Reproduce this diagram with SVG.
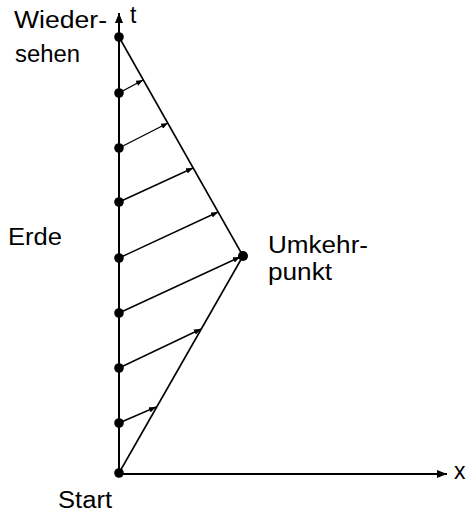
<svg xmlns="http://www.w3.org/2000/svg" width="467" height="512" viewBox="0 0 467 512">
<style>
.lbl{font-family:"Liberation Sans",Arial,sans-serif;font-size:23px;fill:#000}
.ax{stroke:#000;stroke-width:2;fill:none}
.wl{stroke:#000;stroke-width:1.6;fill:none}
.sig{stroke:#000;stroke-width:1.4;fill:none;marker-end:url(#sa)}
.ev{fill:#000}
</style>
<defs>
<marker id="sa" viewBox="0 0 10 8" refX="10" refY="4" markerWidth="7" markerHeight="5.6" markerUnits="userSpaceOnUse" orient="auto">
<path d="M0,0 L10,4 L0,8 z" fill="#000"/>
</marker>
<marker id="ba" viewBox="0 0 10 8" refX="10" refY="4" markerWidth="11" markerHeight="8" markerUnits="userSpaceOnUse" orient="auto">
<path d="M0,0 L10,4 L0,8 z" fill="#000"/>
</marker>
</defs>
<g id="connectors">
<line id="t-axis" class="ax" x1="119" y1="474" x2="119" y2="13" marker-end="url(#ba)"/>
<line id="x-axis" class="ax" x1="119" y1="474" x2="447" y2="474" marker-end="url(#ba)"/>
<line id="outbound" class="wl" x1="119" y1="473" x2="243" y2="256"/>
<line id="inbound" class="wl" x1="243" y1="256" x2="119" y2="37"/>
<line class="sig" x1="119" y1="423" x2="156" y2="407"/>
<line class="sig" x1="119" y1="368" x2="201" y2="329"/>
<line class="sig" x1="119" y1="313" x2="240" y2="257"/>
<line class="sig" x1="119" y1="258" x2="218" y2="212"/>
<line class="sig" x1="119" y1="202" x2="193" y2="168"/>
<line class="sig" x1="119" y1="148" x2="168" y2="123"/>
<line class="sig" x1="119" y1="93" x2="143" y2="80"/>
</g>
<g id="earth-events">
<circle class="ev" cx="119" cy="37" r="4.8"/>
<circle class="ev" cx="119" cy="93" r="4.8"/>
<circle class="ev" cx="119" cy="148" r="4.8"/>
<circle class="ev" cx="119" cy="202" r="4.8"/>
<circle class="ev" cx="119" cy="258" r="4.8"/>
<circle class="ev" cx="119" cy="313" r="4.8"/>
<circle class="ev" cx="119" cy="368" r="4.8"/>
<circle class="ev" cx="119" cy="423" r="4.8"/>
<circle class="ev" cx="119" cy="473" r="4.8"/>
</g>
<g id="turnaround">
<circle class="ev" cx="243" cy="256" r="5"/>
<text class="lbl" x="268" y="253" textLength="100" lengthAdjust="spacingAndGlyphs">Umkehr-</text>
<text class="lbl" x="268" y="280" textLength="64" lengthAdjust="spacingAndGlyphs">punkt</text>
</g>
<g id="labels">
<text class="lbl" x="14" y="28" textLength="93" lengthAdjust="spacingAndGlyphs">Wieder-</text>
<text class="lbl" x="15" y="62" textLength="65" lengthAdjust="spacingAndGlyphs">sehen</text>
<text class="lbl" x="130" y="23">t</text>
<text class="lbl" x="8" y="245" textLength="54" lengthAdjust="spacingAndGlyphs">Erde</text>
<text class="lbl" x="58" y="508" textLength="54" lengthAdjust="spacingAndGlyphs">Start</text>
<text class="lbl" x="454" y="479">x</text>
</g>
</svg>
